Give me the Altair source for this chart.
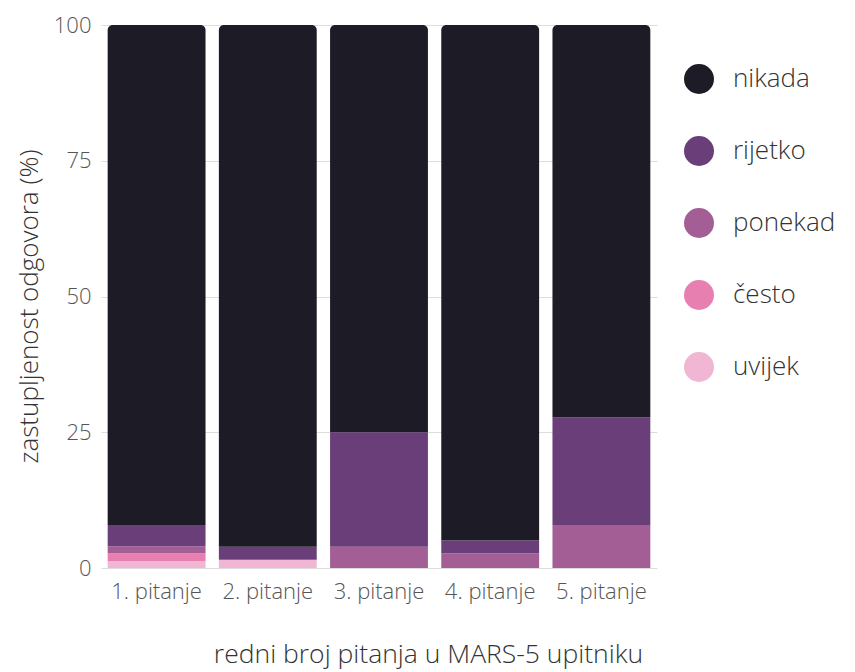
import altair as alt
import pandas as pd

questions = ["1. pitanje", "2. pitanje", "3. pitanje", "4. pitanje", "5. pitanje"]
legend_order = ["nikada", "rijetko", "ponekad", "često", "uvijek"]
colors = ["#1d1b26", "#6a3e78", "#a45e96", "#e77fb0", "#f0b6d3"]

uvijek = [1.3, 1.5, 0.0, 0.0, 0.0]
cesto = [1.4, 0.0, 0.0, 0.0, 0.0]
ponekad = [1.3, 0.0, 3.9, 2.7, 7.9]
rijetko = [3.9, 2.4, 21.1, 2.4, 19.8]
nikada = [92.1, 96.1, 75.0, 94.9, 72.3]

series = {"uvijek": uvijek, "često": cesto, "ponekad": ponekad, "rijetko": rijetko, "nikada": nikada}
stack_order = ["uvijek", "često", "ponekad", "rijetko", "nikada"]

rows = []
for cat in stack_order:
    for q, v in zip(questions, series[cat]):
        rows.append({"pitanje": q, "odgovor": cat, "vrijednost": v, "red": stack_order.index(cat)})
df = pd.DataFrame(rows)

FONT = "Open Sans"
W = 300

color = alt.Color(
    "odgovor:N",
    scale=alt.Scale(domain=legend_order, range=colors),
    legend=alt.Legend(
        title=None,
        orient="none",
        legendX=583,
        legendY=39,
        symbolType="circle",
        symbolSize=900,
        symbolOpacity=1,
        symbolStrokeWidth=0,
        labelFontSize=26,
        labelFont=FONT,
        labelFontWeight=W,
        labelColor="#333333",
        labelOffset=19,
        rowPadding=42,
        padding=0,
    ),
)

base = alt.Chart(df).transform_stack(
    stack="vrijednost",
    groupby=["pitanje"],
    as_=["y0", "y1"],
    sort=[alt.SortField("red", order="ascending")],
)

x = alt.X(
    "pitanje:N",
    sort=questions,
    scale=alt.Scale(paddingInner=0.12, paddingOuter=0.06),
    axis=alt.Axis(
        title="redni broj pitanja u MARS-5 upitniku",
        titleFontSize=26.5,
        titleFont=FONT,
        titleFontWeight=W,
        titleColor="#333333",
        titlePadding=39,
        titleX=327,
        labelAngle=0,
        labelFontSize=22,
        labelFont=FONT,
        labelFontWeight=W,
        labelColor="#555555",
        labelPadding=13,
        ticks=False,
        domain=False,
    ),
)

y = alt.Y(
    "y0:Q",
    scale=alt.Scale(domain=[0, 100], nice=False),
    axis=alt.Axis(
        title="zastupljenost odgovora (%)",
        titleFontSize=26,
        titleFont=FONT,
        titleFontWeight=W,
        titleColor="#333333",
        titlePadding=11,
        titleY=281,
        values=[0, 25, 50, 75, 100],
        labelFontSize=22,
        labelFont=FONT,
        labelFontWeight=W,
        labelColor="#555555",
        labelPadding=10,
        ticks=False,
        domain=False,
        grid=True,
        gridColor="#dddddd",
    ),
)

lower = base.transform_filter(alt.datum.odgovor != "nikada").mark_bar().encode(
    x=x, y=y, y2="y1:Q", color=color
)
upper = base.transform_filter(alt.datum.odgovor == "nikada").mark_bar(
    cornerRadiusTopLeft=5, cornerRadiusTopRight=5
).encode(x=x, y=y, y2="y1:Q", color=color)

chart = alt.layer(lower, upper).properties(
    width=556,
    height=543,
    padding={"left": 8, "top": 6, "right": 5, "bottom": 5},
).configure_view(stroke=None)

chart.save("out.html", embed_options={"renderer": "svg", "actions": False})
